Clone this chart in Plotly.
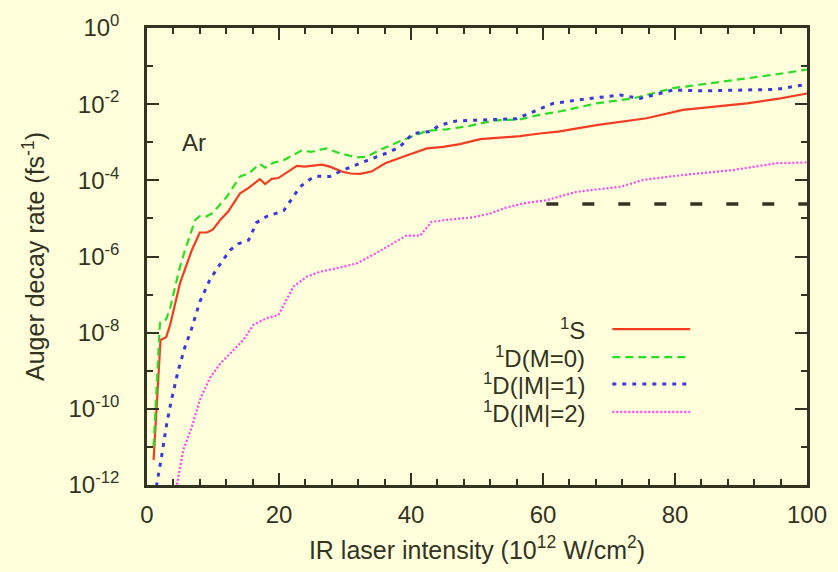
import plotly.graph_objects as go

# ---- data (log10 of Auger decay rate in fs^-1) ----
s_x = [1.0, 1.45, 2.05, 2.9, 3.5, 5.0, 6.8, 8.0, 9.1, 10.0, 11.1, 12.3, 14.1, 15.3, 17.1, 17.9,
       18.9, 19.9, 21.2, 22.7, 23.9, 26.5, 27.7, 29.5, 30.8, 32.3, 34.0, 36.1, 38.8, 42.4, 44.9,
       47.4, 50.5, 53.5, 56.5, 59.5, 62.3, 68.1, 75.7, 81.2, 90.9, 96.0, 100.0]
s_log = [-11.34, -10.03, -8.19, -8.12, -7.80, -6.70, -5.83, -5.37, -5.37, -5.29, -5.04, -4.82,
         -4.34, -4.21, -3.97, -4.10, -3.96, -3.94, -3.80, -3.62, -3.64, -3.59, -3.64, -3.77,
         -3.82, -3.83, -3.77, -3.55, -3.38, -3.16, -3.12, -3.05, -2.92, -2.88, -2.84, -2.77,
         -2.72, -2.55, -2.37, -2.15, -1.98, -1.85, -1.72]

d0_x = [1.0, 1.87, 1.97, 2.9, 3.5, 4.5, 5.0, 5.76, 6.3, 7.3, 8.0, 9.0, 10.0, 12.1, 14.1, 15.4,
        17.1, 17.9, 19.1, 20.7, 23.4, 24.9, 27.2, 29.2, 31.8, 33.3, 35.3, 38.8, 42.4, 45.4, 48.9,
        52.5, 56.5, 59.5, 62.3, 68.1, 73.6, 79.7, 88.8, 94.9, 100.0]
d0_log = [-10.99, -8.02, -7.71, -7.65, -7.36, -6.62, -6.27, -5.83, -5.57, -5.04, -4.94, -4.95,
          -4.85, -4.43, -3.90, -3.82, -3.57, -3.67, -3.54, -3.47, -3.22, -3.25, -3.16, -3.29,
          -3.40, -3.38, -3.20, -2.94, -2.70, -2.66, -2.57, -2.43, -2.40, -2.28, -2.20, -1.98,
          -1.85, -1.58, -1.37, -1.23, -1.09]

d1_x = [1.3, 1.5, 2.2, 3.0, 3.7, 4.75, 5.76, 6.77, 8.0, 9.5, 10.8, 12.6, 13.8, 15.4, 16.6, 18.1,
        20.7, 21.7, 23.2, 24.7, 25.7, 27.7, 29.7, 32.3, 34.8, 36.8, 38.3, 40.3, 42.8, 44.4, 46.9,
        49.9, 52.9, 56.0, 58.5, 61.5, 67.1, 71.7, 74.7, 79.7, 84.8, 89.8, 95.4, 100.0]
d1_log = [-12.3, -11.96, -11.26, -10.38, -9.77, -8.98, -8.37, -7.89, -7.19, -6.62, -6.27, -5.83,
          -5.67, -5.57, -5.11, -4.95, -4.80, -4.56, -4.17, -3.97, -3.89, -3.90, -3.73, -3.55,
          -3.38, -3.25, -3.12, -2.77, -2.72, -2.55, -2.44, -2.42, -2.40, -2.38, -2.20, -1.98,
          -1.85, -1.76, -1.85, -1.63, -1.65, -1.63, -1.61, -1.48]

d2_x = [4.2, 4.5, 5.5, 6.8, 8.0, 9.5, 11.1, 13.1, 14.6, 16.1, 18.1, 19.9, 22.2, 24.2, 26.2, 28.7,
        31.8, 34.3, 37.3, 39.3, 41.4, 43.1, 45.4, 49.4, 52.0, 54.5, 57.5, 60.6, 65.1, 71.7, 75.2,
        81.2, 88.8, 95.4, 100.0]
d2_log = [-12.3, -12.0, -11.08, -10.47, -9.77, -9.20, -8.81, -8.46, -8.19, -7.80, -7.62, -7.54,
          -6.79, -6.53, -6.40, -6.31, -6.18, -5.95, -5.65, -5.45, -5.45, -5.09, -5.04, -4.97,
          -4.87, -4.71, -4.59, -4.52, -4.30, -4.17, -3.99, -3.86, -3.73, -3.55, -3.53]

ref_x = [60.5, 100.0]
ref_y = [2.4e-5, 2.4e-5]

series_names = ["<sup>1</sup>S", "<sup>1</sup>D(M=0)", "<sup>1</sup>D(|M|=1)", "<sup>1</sup>D(|M|=2)"]
x_ticks = [0, 20, 40, 60, 80, 100]
y_major_exp = [0, -2, -4, -6, -8, -10, -12]
y_minor_exp = [-1, -3, -5, -7, -9, -11]

# ---- style ----
BG = "#ffffdc"
AX = "#333322"
FONT = "Liberation Sans, Arial, sans-serif"
colors = ["#f43c22", "#2ade22", "#3a3ad8", "#ff44ee"]
dashes = ["solid", "8px,5px", "4px,6px", "2px,2px"]
widths = [2.2, 2.2, 3, 2.2]

fig = go.Figure()
data = [(s_x, s_log), (d0_x, d0_log), (d1_x, d1_log), (d2_x, d2_log)]
for (xs, ls), c, d, w in zip(data, colors, dashes, widths):
    fig.add_trace(go.Scatter(x=xs, y=[10 ** v for v in ls], mode="lines",
                             line=dict(color=c, dash=d, width=w), showlegend=False))
fig.add_trace(go.Scatter(x=ref_x, y=ref_y, mode="lines",
                         line=dict(color=AX, dash="12px,24px", width=3.5), showlegend=False))

# manual legend (text on left, sample on right)
leg_y = [0.341, 0.280, 0.221, 0.160]
for name, c, d, w, yy in zip(series_names, colors, dashes, widths, leg_y):
    fig.add_annotation(x=0.666, y=yy, xref="paper", yref="paper", text=name, showarrow=False,
                       xanchor="right", yanchor="middle", font=dict(size=24, color=AX, family=FONT))
    fig.add_shape(type="line", xref="paper", yref="paper", x0=0.705, x1=0.823, y0=yy, y1=yy,
                  line=dict(color=c, dash=d, width=w))

fig.add_annotation(x=5.0, y=-3.0, xref="x", yref="y", text="Ar", showarrow=False,
                   xanchor="left", yanchor="middle", font=dict(size=24, color=AX, family=FONT))

fig.update_layout(
    width=838, height=572,
    margin=dict(l=147, r=31, t=28, b=87),
    paper_bgcolor=BG, plot_bgcolor=BG,
    font=dict(family=FONT, size=24, color=AX),
)
fig.update_xaxes(
    range=[0, 100], tickvals=x_ticks, ticktext=[str(v) for v in x_ticks],
    ticks="inside", ticklen=12, tickwidth=2, tickcolor=AX,
    minor=dict(dtick=4, ticks="inside", ticklen=6, tickwidth=2, tickcolor=AX),
    showline=True, linewidth=2.5, linecolor=AX, mirror="allticks",
    showgrid=False, zeroline=False, ticklabelstandoff=6,
    title=dict(text="IR laser intensity (10<sup>12</sup> W/cm<sup>2</sup>)", standoff=15,
               font=dict(size=25)),
    tickfont=dict(size=24),
)
fig.update_yaxes(
    type="log", range=[-12, 0],
    tickvals=[10 ** e for e in y_major_exp],
    ticktext=["10<sup>%d</sup>" % e for e in y_major_exp],
    ticks="inside", ticklen=12, tickwidth=2, tickcolor=AX,
    minor=dict(tickvals=[10 ** e for e in y_minor_exp], ticks="inside", ticklen=6,
               tickwidth=2, tickcolor=AX),
    showline=True, linewidth=2.5, linecolor=AX, mirror="allticks",
    showgrid=False, zeroline=False, ticklabelstandoff=20,
    title=dict(text="Auger decay rate (fs<sup>-1</sup>)", standoff=17, font=dict(size=25)),
    tickfont=dict(size=24),
)

fig.write_html("out.html", config={"displayModeBar": False},
               post_script="document.body.style.margin='0';"
                           "document.body.style.background='#ffffdc';")
